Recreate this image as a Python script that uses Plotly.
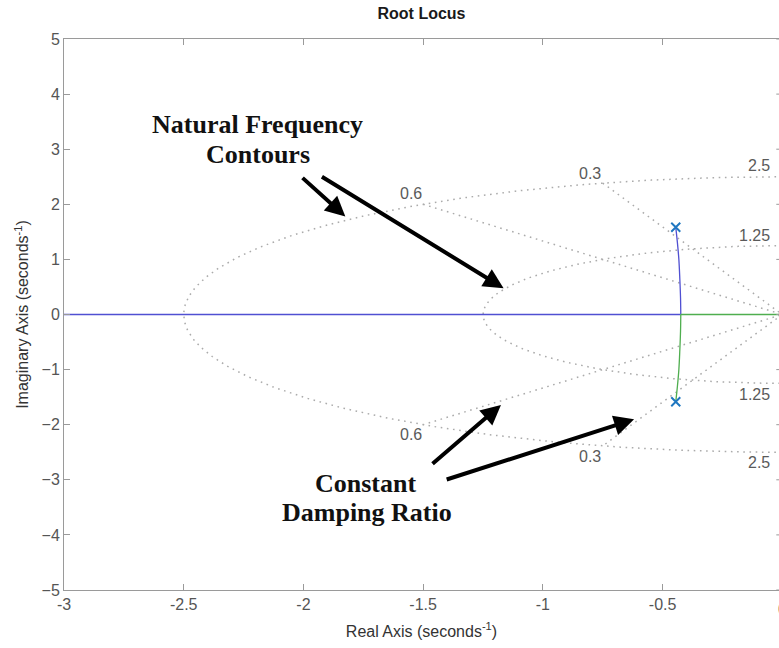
import numpy as np
import plotly.graph_objects as go

# ---------------- data ----------------
wn_values = [1.25, 2.5]            # natural frequency contours
zeta_values = [0.3, 0.6]           # constant damping ratio lines
wn_max = 2.5

pole_re = [-0.445, -0.445]
pole_im = [1.585, -1.585]

upper_branch_re = [-0.445, -0.438, -0.432, -0.428, -0.425, -0.424]
upper_branch_im = [1.585, 1.3, 1.0, 0.65, 0.3, 0.0]
lower_branch_re = [-0.445, -0.438, -0.432, -0.428, -0.425, -0.424]
lower_branch_im = [-1.585, -1.3, -1.0, -0.65, -0.3, 0.0]

real_left_re = [-10.0, -0.424]     # towards -infinity
real_right_re = [-0.424, 0.5]
real_im = [0.0, 0.0]

x_ticks = [-3, -2.5, -2, -1.5, -1, -0.5, 0]
x_tick_text = ["-3", "-2.5", "-2", "-1.5", "-1", "-0.5", "0"]
y_ticks = [-5, -4, -3, -2, -1, 0, 1, 2, 3, 4, 5]

# ---------------- figure ----------------
GRID = "#ababab"
GRID_DASH = "1.6px,4.6px"
AXC = "#9a9a9a"
TXT = "#555555"
FONT = "Liberation Sans, Arial, sans-serif"
SERIF = "Liberation Serif, Times New Roman, serif"

fig = go.Figure()

theta = np.linspace(np.pi / 2, 3 * np.pi / 2, 300)
for wn in wn_values:
    fig.add_trace(go.Scatter(x=wn * np.cos(theta), y=wn * np.sin(theta), mode="lines",
                             line=dict(color=GRID, width=1.5, dash=GRID_DASH),
                             hoverinfo="skip", showlegend=False))
for z in zeta_values:
    xe = -z * wn_max
    ye = np.sqrt(1 - z * z) * wn_max
    fig.add_trace(go.Scatter(x=[xe, 0, xe], y=[ye, 0, -ye], mode="lines",
                             line=dict(color=GRID, width=1.5, dash=GRID_DASH),
                             hoverinfo="skip", showlegend=False))

fig.add_trace(go.Scatter(x=upper_branch_re + [None] + real_left_re,
                         y=upper_branch_im + [None] + real_im,
                         mode="lines", line=dict(color="#5050d2", width=1.3, shape="spline"),
                         showlegend=False))
fig.add_trace(go.Scatter(x=lower_branch_re + [None] + real_right_re,
                         y=lower_branch_im + [None] + real_im,
                         mode="lines", line=dict(color="#4fae4f", width=1.3, shape="spline"),
                         showlegend=False))
fig.add_trace(go.Scatter(x=pole_re, y=pole_im, mode="markers",
                         marker=dict(symbol="x-thin", size=9,
                                     line=dict(color="#1f77c0", width=2)),
                         showlegend=False))

annotations = []
# grid labels
for txt, x, y, xa in [("0.3", -0.803, 2.566, "center"), ("0.3", -0.803, -2.580, "center"),
                      ("0.6", -1.550, 2.203, "center"), ("0.6", -1.550, -2.186, "center"),
                      ("2.5", -0.043, 2.698, "right"), ("2.5", -0.043, -2.695, "right"),
                      ("1.25", -0.043, 1.427, "right"), ("1.25", -0.043, -1.460, "right")]:
    annotations.append(dict(text=txt, x=x, y=y, xref="x", yref="y", xanchor=xa,
                            yanchor="middle", showarrow=False,
                            font=dict(family=FONT, size=16, color="#5a5a5a")))

# explanatory text
for txt, x, y in [("Natural Frequency", -2.192, 3.443), ("Contours", -2.188, 2.898),
                  ("Constant", -1.740, -3.076), ("Damping Ratio", -1.733, -3.585)]:
    annotations.append(dict(text="<b>%s</b>" % txt, x=x, y=y, xref="x", yref="y",
                            showarrow=False, xanchor="center", yanchor="middle",
                            font=dict(family=SERIF, size=26, color="#111111")))

# arrows (tail -> tip)
for (tx, ty), (hx, hy) in [((-2.010, 2.504), (-1.825, 1.778)),
                           ((-1.929, 2.517), (-1.164, 0.478)),
                           ((-1.467, -2.731), (-1.175, -1.642)),
                           ((-1.408, -3.003), (-0.619, -1.901))]:
    annotations.append(dict(text="", x=hx, y=hy, ax=tx, ay=ty, xref="x", yref="y",
                            axref="x", ayref="y", showarrow=True, arrowhead=2,
                            arrowsize=1.0, arrowwidth=4, arrowcolor="#000000",
                            standoff=0, startstandoff=0))

# partially visible "0" tick label at the right edge
annotations.append(dict(text="0", x=1.0046, y=0, xref="paper", yref="paper",
                        xanchor="center", yanchor="top", yshift=-9, showarrow=False,
                        font=dict(family=FONT, size=16, color=TXT)))

shapes = []
for yv in y_ticks:
    shapes.append(dict(type="line", xref="paper", yref="y", x0=0.9962, x1=1.0,
                       y0=yv, y1=yv, line=dict(color=AXC, width=1)))

L = 63.5
W = 779
ppu = 239.6
x_end = -3 + (W - L) / ppu

fig.update_layout(
    width=779, height=648,
    margin=dict(l=L, r=0, t=39, b=58),
    paper_bgcolor="white", plot_bgcolor="white",
    title=dict(text="<b>Root Locus</b>", x=0.5, xref="paper", y=1 - 13 / 648,
               yref="container", yanchor="middle",
               font=dict(family=FONT, size=16, color="#1a1a1a")),
    annotations=annotations, shapes=shapes,
    xaxis=dict(range=[-3, x_end], tickvals=x_ticks[:-1], ticktext=x_tick_text[:-1],
               showgrid=False, zeroline=False, showline=True, linecolor=AXC, linewidth=1,
               mirror="ticks", ticks="inside", ticklen=6, tickcolor=AXC, automargin=False,
               tickfont=dict(family=FONT, size=16, color=TXT),
               title=dict(text="Real Axis (seconds<sup>-1</sup>)", standoff=13,
                          font=dict(family=FONT, size=16, color="#333333"))),
    yaxis=dict(range=[-5, 5], tickvals=y_ticks, showgrid=False, zeroline=False,
               showline=True, linecolor=AXC, linewidth=1, mirror=False, automargin=False,
               ticks="inside", ticklen=6, tickcolor=AXC,
               tickfont=dict(family=FONT, size=16, color=TXT),
               title=dict(text="Imaginary Axis (seconds<sup>-1</sup>)", standoff=8,
                          font=dict(family=FONT, size=16, color="#333333"))),
)

fig.write_html("out.html", config={"displayModeBar": False},
               post_script="document.body.style.margin='0';document.body.style.padding='0';")
